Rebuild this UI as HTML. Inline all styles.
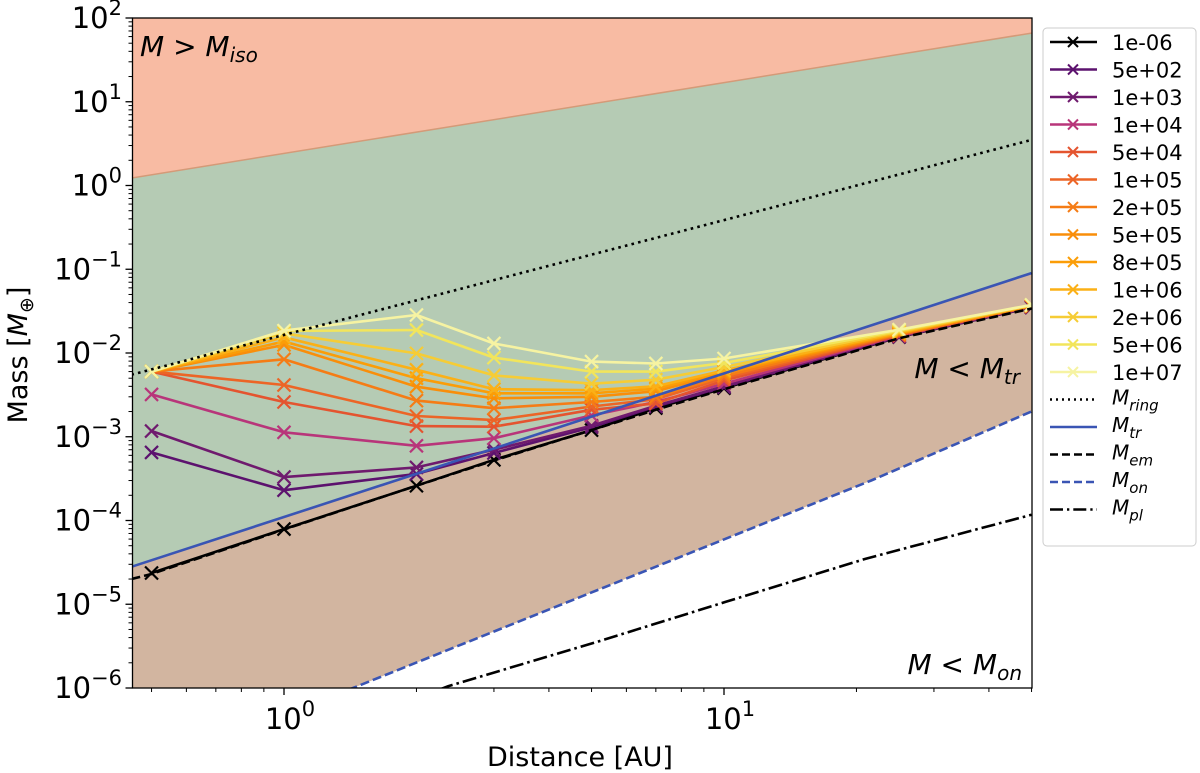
<!DOCTYPE html>
<html><head><meta charset="utf-8"><style>
html,body{margin:0;padding:0;background:#fff;}
svg{display:block;font-family:"DejaVu Sans","Liberation Sans",sans-serif;}
</style></head><body>
<svg id="chart" width="1200" height="773" viewBox="0 0 1200 773" xmlns="http://www.w3.org/2000/svg">
<defs><clipPath id="clip"><rect x="132.5" y="18" width="899.5" height="670"/></clipPath></defs>
<g id="regions" clip-path="url(#clip)"></g>
<g id="series" clip-path="url(#clip)"></g>
<g id="axes"></g>
<g id="legend"></g>
</svg>
<script>
const distances = [0.5,1,2,3,5,7,10,25,50];
const seriesLabels = ["1e-06","5e+02","1e+03","1e+04","5e+04","1e+05","2e+05","5e+05","8e+05","1e+06","2e+06","5e+06","1e+07"];
const seriesColors = ["#000000","#5c126e","#6f1a6e","#b8357a","#e4542f","#ec6526","#f57c15","#f98e0a","#fb9d07","#fbb016","#f6cc35","#f2e55b","#f6f3a2"];
const s1em6 = [2.36e-5,7.9e-5,2.6e-4,5.3e-4,1.2e-3,2.2e-3,3.8e-3,1.55e-2,3.5e-2];
const s5e2 = [6.5e-4,2.3e-4,3.6e-4,6.4e-4,1.3e-3,2.3e-3,3.9e-3,1.56e-2,3.5e-2];
const s1e3 = [1.17e-3,3.3e-4,4.3e-4,7.0e-4,1.35e-3,2.35e-3,4.0e-3,1.57e-2,3.55e-2];
const s1e4 = [3.2e-3,1.13e-3,7.8e-4,9.6e-4,1.8e-3,2.6e-3,4.3e-3,1.6e-2,3.6e-2];
const s5e4 = [6e-3,2.6e-3,1.34e-3,1.32e-3,2.1e-3,2.5e-3,4.7e-3,1.62e-2,3.6e-2];
const s1e5 = [6e-3,4.15e-3,1.77e-3,1.58e-3,2.3e-3,2.8e-3,5.0e-3,1.65e-2,3.6e-2];
const s2e5 = [6e-3,8.4e-3,2.7e-3,2.19e-3,2.6e-3,3.0e-3,5.3e-3,1.68e-2,3.65e-2];
const s5e5 = [6e-3,1.25e-2,3.96e-3,2.88e-3,3.0e-3,3.5e-3,5.7e-3,1.7e-2,3.65e-2];
const s8e5 = [6e-3,1.37e-2,5.0e-3,3.3e-3,3.3e-3,3.75e-3,6.0e-3,1.72e-2,3.7e-2];
const s1e6 = [6e-3,1.54e-2,6.3e-3,3.7e-3,3.6e-3,4.0e-3,6.2e-3,1.75e-2,3.7e-2];
const s2e6 = [6e-3,1.72e-2,9.9e-3,5.4e-3,4.3e-3,4.8e-3,6.8e-3,1.8e-2,3.7e-2];
const s5e6 = [6e-3,1.83e-2,1.88e-2,8.8e-3,6.0e-3,6.0e-3,7.6e-3,1.85e-2,3.75e-2];
const s1e7 = [6e-3,1.85e-2,2.84e-2,1.3e-2,7.9e-3,7.5e-3,8.6e-3,1.9e-2,3.75e-2];
const seriesValues = [s1em6,s5e2,s1e3,s1e4,s5e4,s1e5,s2e5,s5e5,s8e5,s1e6,s2e6,s5e6,s1e7];
const ringX = [0.45,50], ringY = [5.5e-3,3.5];
const trX = [0.45,50], trY = [2.8e-5,0.09];
const isoX = [0.45,50], isoY = [1.23,66];
const emX = [0.45,0.5,1,2,3,5,7,10,25,50];
const emY = [2e-5,2.3e-5,7.8e-5,2.6e-4,5.2e-4,1.2e-3,2.1e-3,3.7e-3,1.5e-2,3.4e-2];
const onX = [0.45,1.435,2.26,21.6,50], onY = [8.7e-8,1e-6,2.6e-6,3.0e-4,2e-3];
const plX = [2.0,2.36,5.1,10.1,21,50], plY = [7.5e-7,1.05e-6,3.5e-6,1.07e-5,3.5e-5,1.17e-4];
const xTickExps = [0,1];
const yTickExps = [2,1,0,-1,-2,-3,-4,-5,-6];

const NS="http://www.w3.org/2000/svg";
const X0=132.5,X1=1032,Y0=18,Y1=688;
const X=v=>284+440*Math.log10(v);
const Y=v=>18+(2-Math.log10(v))*83.75;
function mk(tag,attrs,parent){const e=document.createElementNS(NS,tag);for(const k in attrs)e.setAttribute(k,attrs[k]);parent.appendChild(e);return e;}
const reg=document.getElementById('regions'),ser=document.getElementById('series'),axes=document.getElementById('axes'),leg=document.getElementById('legend');
const pts=(xs,ys)=>xs.map((x,i)=>X(x).toFixed(1)+','+Y(ys[i]).toFixed(1));
let p;
p=mk('polygon',{points:[X0+','+Y0,X1+','+Y0].concat(pts(isoX,isoY).reverse()).join(' '),fill:'#f8bba3'},reg);


p=mk('polygon',{points:pts(isoX,isoY).concat(pts(trX,trY).reverse()).join(' '),fill:'#b5cbb4'},reg);


p=mk('polygon',{points:pts(trX,trY).concat(pts(onX,onY).reverse()).join(' '),fill:'#d2b5a0'},reg);


p=mk('polyline',{points:pts(isoX,isoY).join(' '),fill:'none',stroke:'#d49a78',"stroke-width":1.5},reg);


seriesValues.forEach((vals,i)=>{
  const g=mk('g',{},ser);
  
  
  mk('polyline',{points:pts(distances,vals).join(' '),fill:'none',stroke:seriesColors[i],"stroke-width":2.6,"stroke-linejoin":"round"},g);
  vals.forEach((v,j)=>{const cx=X(distances[j]),cy=Y(v),r=6.5;
    const m=mk('path',{d:`M${cx-r},${cy-r}L${cx+r},${cy+r}M${cx-r},${cy+r}L${cx+r},${cy-r}`,stroke:seriesColors[i],"stroke-width":2.2},g);
    
    
  });
});
const lines=[
 ['m-ring-line',ringX,ringY,'#000','2.6 4.2'],
 ['m-tr-line',trX,trY,'#3a55b4',''],
 ['m-em-line',emX,emY,'#000','9 4'],
 ['m-on-line',onX,onY,'#3a55b4','9 4'],
 ['m-pl-line',plX,plY,'#000','14 4 2.6 4']];
lines.forEach(l=>{const e=mk('polyline',{points:pts(l[1],l[2]).join(' '),fill:'none',stroke:l[3],"stroke-width":2.6,"stroke-dasharray":l[4]},ser);
  
  });
p=mk('rect',{x:X0,y:Y0,width:X1-X0,height:Y1-Y0,fill:'none',stroke:'#000',"stroke-width":1.3},axes);


for(let d=-1;d<=1;d++)for(let k=1;k<10;k++){const v=k*Math.pow(10,d);const x=X(v);if(x<X0-0.5||x>X1+0.5)continue;
  mk('line',{x1:x,x2:x,y1:Y1,y2:Y1+(k==1?7:4),stroke:'#000',"stroke-width":k==1?1.3:1},axes);}
xTickExps.forEach(e=>{const t=mk('text',{x:X(Math.pow(10,e))+6,y:729,"font-size":29,"text-anchor":"middle"},axes);
  
  
  t.innerHTML='10<tspan dy="-13" font-size="21">'+e+'</tspan>';});
for(let d=-6;d<2;d++)for(let k=1;k<10;k++){const v=k*Math.pow(10,d);const y=Y(v);
  mk('line',{x1:X0,x2:X0-(k==1?7:4),y1:y,y2:y,stroke:'#000',"stroke-width":k==1?1.3:1},axes);}
mk('line',{x1:X0,x2:X0-7,y1:Y0,y2:Y0,stroke:'#000',"stroke-width":1.3},axes);
yTickExps.forEach(e=>{const t=mk('text',{x:122,y:Y(Math.pow(10,e))+10,"font-size":29,"text-anchor":"end"},axes);
  
  
  t.innerHTML='10<tspan dy="-13" font-size="21">'+(e<0?'\u2212'+(-e):e)+'</tspan>';});
p=mk('text',{x:580,y:766,"font-size":27,"text-anchor":"middle"},axes);p.textContent='Distance [AU]';


p=mk('text',{x:0,y:0,"font-size":27,"text-anchor":"middle",transform:'translate(27,355) rotate(-90)'},axes);
p.innerHTML='Mass [<tspan font-style="italic">M</tspan><tspan dy="6" font-size="19">\u2295</tspan><tspan dy="-6">]</tspan>';


function ann(name,x,y,anchor,sym,sub){const t=mk('text',{x:x,y:y,"font-size":28,"text-anchor":anchor,"font-style":"italic"},axes);
  t.innerHTML='M <tspan font-style="normal">'+sym+'</tspan> M<tspan dy="6" font-size="20">'+sub+'</tspan>';
  
  }
ann('annotation-m-iso',140,56,'start','&gt;','iso');
ann('annotation-m-tr',1020,378,'end','&lt;','tr');
ann('annotation-m-on',1022,674,'end','&lt;','on');
p=mk('rect',{x:1043,y:28,width:153,height:518,rx:4,fill:'#fff',stroke:'#ccc',"stroke-width":1},leg);


const legExtra=[['ring','#000','2 4'],['tr','#3a55b4',''],['em','#000','8 4'],['on','#3a55b4','8 4'],['pl','#000','13 4 2.3 4']];
const rowY=i=>42+i*27.5;
seriesLabels.forEach((lab,i)=>{const g=mk('g',{},leg);
  
  
  const y=rowY(i);
  mk('line',{x1:1050,x2:1097,y1:y,y2:y,stroke:seriesColors[i],"stroke-width":2.5},g);
  mk('path',{d:`M1068,${y-5}L1078,${y+5}M1068,${y+5}L1078,${y-5}`,stroke:seriesColors[i],"stroke-width":2},g);
  const t=mk('text',{x:1112,y:y+8,"font-size":21},g);t.textContent=lab;});
legExtra.forEach((l,j)=>{const i=13+j;const g=mk('g',{},leg);
  
  
  const y=rowY(i);
  mk('line',{x1:1050,x2:1097,y1:y,y2:y,stroke:l[1],"stroke-width":2.5,"stroke-dasharray":l[2]},g);
  const t=mk('text',{x:1112,y:y+5,"font-size":20,"font-style":"italic"},g);
  t.innerHTML='M<tspan dy="6" font-size="15">'+l[0]+'</tspan>';});
</script>
</body></html>
